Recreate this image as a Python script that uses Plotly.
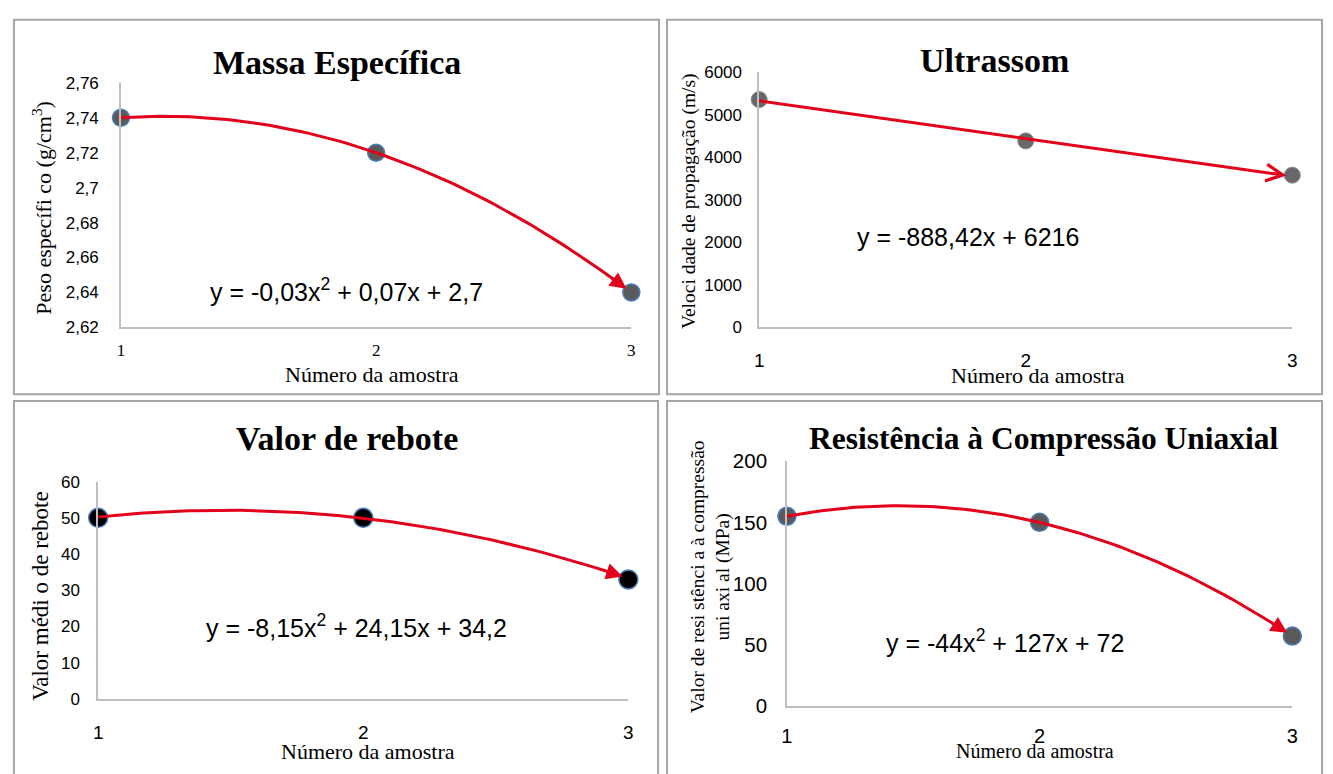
import numpy as np
import plotly.graph_objects as go

W, H = 1333, 774

# ---------------- data ----------------
amostras = [1, 2, 3]
x_ticktext = ["1", "2", "3"]

massa_vals = [2.74, 2.72, 2.64]
massa_coef = [-0.03, 0.07, 2.7]
massa_ticks = [2.62, 2.64, 2.66, 2.68, 2.70, 2.72, 2.74, 2.76]
massa_ticktext = ["2,62", "2,64", "2,66", "2,68", "2,7", "2,72", "2,74", "2,76"]

ultra_vals = [5355, 4384, 3578]
ultra_coef = [-888.42, 6216]
ultra_ticks = [0, 1000, 2000, 3000, 4000, 5000, 6000]
ultra_ticktext = ["0", "1000", "2000", "3000", "4000", "5000", "6000"]

rebote_vals = [50, 50, 33]
rebote_coef = [-8.15, 24.15, 34.2]
rebote_ticks = [0, 10, 20, 30, 40, 50, 60]
rebote_ticktext = ["0", "10", "20", "30", "40", "50", "60"]

rcu_vals = [155, 150, 57]
rcu_coef = [-44, 127, 72]
rcu_ticks = [0, 50, 100, 150, 200]
rcu_ticktext = ["0", "50", "100", "150", "200"]

# ---------------- styles ----------------
RED = "#E2001A"
AXIS = "#BFBFBF"
BOX = "#A6A6A6"
SERIF = "Liberation Serif, Times New Roman, serif"
SANS = "Liberation Sans, Arial, sans-serif"


def px_x(p):
    return p / W


def px_y(p):
    return 1 - p / H


panels = [
    dict(
        title="Massa Específica", vals=massa_vals, coef=massa_coef,
        ticks=massa_ticks, ticktext=massa_ticktext, yr=[2.62, 2.76],
        dom_x=(116, 631), dom_y=(73, 325),
        marker=dict(color="#5A5A5A", size=17, line=dict(color="#4A7EBB", width=1.5)),
        title_pos=(334, 52), title_size=34,
        ylab="Peso específi co (g/cm<sup>3</sup>)", ylab_pos=(36, 202), ylab_size=22,
        xlab_pos=(369, 374), xlab_size=22,
        eq="y = -0,03x<sup>2</sup> + 0,07x + 2,7", eq_pos=(344, 286),
        xtick_font=dict(family=SERIF, size=17, color="#000"), xtick_pad=7,
        ytick_size=17, ytick_pad=17, head=2,
    ),
    dict(
        title="Ultrassom", vals=ultra_vals, coef=ultra_coef,
        ticks=ultra_ticks, ticktext=ultra_ticktext, yr=[0, 6000],
        dom_x=(760, 1298), dom_y=(62, 325),
        marker=dict(color="#686868", size=16, line=dict(color="#8A8A8A", width=1)),
        title_pos=(997, 50), title_size=34,
        ylab="Veloci dade de propagação (m/s)", ylab_pos=(689, 195), ylab_size=19.5,
        xlab_pos=(1041, 375), xlab_size=22,
        eq="y = -888,42x + 6216", eq_pos=(971, 232),
        xtick_font=dict(family=SANS, size=19, color="#000"), xtick_pad=15,
        ytick_size=17, ytick_pad=12, head=5,
    ),
    dict(
        title="Valor de rebote", vals=rebote_vals, coef=rebote_coef,
        ticks=rebote_ticks, ticktext=rebote_ticktext, yr=[0, 60],
        dom_x=(93, 628), dom_y=(484, 708),
        marker=dict(color="#000000", size=19, line=dict(color="#4A7EBB", width=1.5)),
        title_pos=(344, 440), title_size=34,
        ylab="Valor médi o de rebote", ylab_pos=(34, 602), ylab_size=23,
        xlab_pos=(365, 762), xlab_size=22,
        eq="y = -8,15x<sup>2</sup> + 24,15x + 34,2", eq_pos=(354, 633),
        xtick_font=dict(family=SANS, size=19, color="#000"), xtick_pad=15,
        ytick_size=17, ytick_pad=13, head=2,
    ),
    dict(
        title="Resistência à Compressão Uniaxial", vals=rcu_vals, coef=rcu_coef,
        ticks=rcu_ticks, ticktext=rcu_ticktext, yr=[0, 200],
        dom_x=(788, 1298), dom_y=(463, 715),
        marker=dict(color="#5A5A5A", size=18, line=dict(color="#4A7EBB", width=1.5)),
        title_pos=(1047, 440), title_size=31.5,
        ylab="Valor de resi stênci a à compressão<br>uni axi al (MPa)", ylab_pos=(711, 582), ylab_size=19.5,
        xlab_pos=(1038, 762), xlab_size=20,
        eq="y = -44x<sup>2</sup> + 127x + 72", eq_pos=(1008, 648),
        xtick_font=dict(family=SANS, size=20, color="#000"), xtick_pad=11,
        ytick_size=20.5, ytick_pad=14, head=2,
    ),
]

fig = go.Figure()
annotations = []
shapes = []

for i, p in enumerate(panels, start=1):
    xa = "x" if i == 1 else f"x{i}"
    ya = "y" if i == 1 else f"y{i}"
    xkey = "xaxis" if i == 1 else f"xaxis{i}"
    ykey = "yaxis" if i == 1 else f"yaxis{i}"

    # measured points
    fig.add_trace(go.Scatter(
        x=amostras, y=p["vals"], mode="markers", marker=p["marker"],
        xaxis=xa, yaxis=ya, cliponaxis=False, showlegend=False, hoverinfo="x+y",
    ))

    # trend line from the fitted equation, drawn over the points
    xt = np.linspace(1, 2.93, 80)
    yt = np.polyval(p["coef"], xt)
    fig.add_trace(go.Scatter(
        x=xt, y=yt, mode="lines", line=dict(color=RED, width=3),
        xaxis=xa, yaxis=ya, cliponaxis=False, showlegend=False, hoverinfo="skip",
    ))

    # arrow head at the end of the trend line
    x_tail = 2.92
    annotations.append(dict(
        x=3, y=float(np.polyval(p["coef"], 3)),
        ax=x_tail, ay=float(np.polyval(p["coef"], x_tail)),
        xref=xa, yref=ya, axref=xa, ayref=ya, text="",
        showarrow=True, arrowhead=p["head"], arrowsize=1.1, arrowwidth=3,
        arrowcolor=RED, standoff=6,
    ))

    fig.update_layout(**{
        xkey: dict(
            domain=[px_x(p["dom_x"][0]), px_x(p["dom_x"][1])], range=[1, 3],
            tickvals=amostras, ticktext=x_ticktext, tickfont=p["xtick_font"],
            ticks="", ticklabelstandoff=p["xtick_pad"],
            showline=True, linecolor=AXIS, linewidth=1.5, showgrid=False,
            zeroline=False, anchor=ya, fixedrange=True,
        ),
        ykey: dict(
            domain=[px_y(p["dom_y"][1]), px_y(p["dom_y"][0])], range=p["yr"],
            tickvals=p["ticks"], ticktext=p["ticktext"],
            tickfont=dict(family=SANS, size=p["ytick_size"], color="#000"),
            ticks="", ticklabelstandoff=p["ytick_pad"],
            showline=True, linecolor=AXIS, linewidth=1.5, showgrid=False,
            zeroline=False, anchor=xa, fixedrange=True,
        ),
    })

    # panel title
    annotations.append(dict(
        text=f"<b>{p['title']}</b>", x=px_x(p["title_pos"][0]), y=px_y(p["title_pos"][1]),
        xref="paper", yref="paper", showarrow=False, xanchor="center", yanchor="middle",
        font=dict(family=SERIF, size=p["title_size"], color="#000"),
    ))
    # y axis title
    annotations.append(dict(
        text=p["ylab"], x=px_x(p["ylab_pos"][0]), y=px_y(p["ylab_pos"][1]),
        xref="paper", yref="paper", showarrow=False, textangle=-90,
        xanchor="center", yanchor="middle",
        font=dict(family=SERIF, size=p["ylab_size"], color="#000"),
    ))
    # x axis title
    annotations.append(dict(
        text="Número da amostra", x=px_x(p["xlab_pos"][0]), y=px_y(p["xlab_pos"][1]),
        xref="paper", yref="paper", showarrow=False, xanchor="center", yanchor="middle",
        font=dict(family=SERIF, size=p["xlab_size"], color="#000"),
    ))
    # trend equation
    annotations.append(dict(
        text=p["eq"], x=px_x(p["eq_pos"][0]), y=px_y(p["eq_pos"][1]),
        xref="paper", yref="paper", showarrow=False, xanchor="center", yanchor="middle",
        font=dict(family=SANS, size=25, color="#000"),
    ))

# frames around each chart
for (x0, y0, x1, y1) in [(8, 8, 659, 394), (667, 8, 1328, 394),
                         (8, 401, 658, 790), (667, 401, 1328, 790)]:
    shapes.append(dict(
        type="rect", xref="paper", yref="paper",
        x0=px_x(x0), x1=px_x(x1), y0=px_y(y1), y1=px_y(y0),
        line=dict(color=BOX, width=2), fillcolor="rgba(0,0,0,0)", layer="below",
    ))

fig.update_layout(
    width=W, height=H, margin=dict(l=0, r=0, t=0, b=0),
    paper_bgcolor="white", plot_bgcolor="white",
    annotations=annotations, shapes=shapes, showlegend=False,
    separators=", ",
)

fig.write_html("out.html", config={"displayModeBar": False})
